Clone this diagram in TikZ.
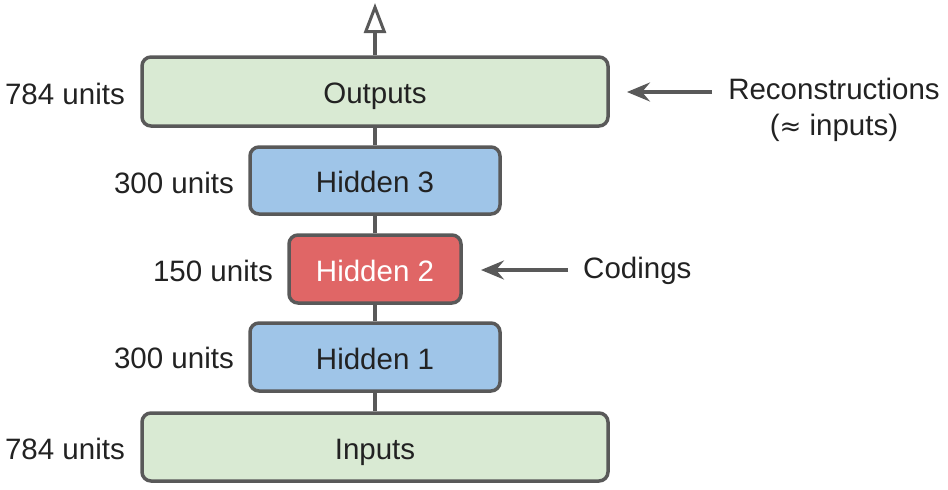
\documentclass[tikz,border=0pt]{standalone}
\usepackage{fontspec}
\setmainfont{Liberation Sans}
\newfontfamily\symfont{DejaVu Sans}
\usetikzlibrary{arrows.meta}
\definecolor{edgegray}{HTML}{595959}
\definecolor{greenfill}{HTML}{D9EAD3}
\definecolor{bluefill}{HTML}{9FC5E8}
\definecolor{redfill}{HTML}{E06666}
\definecolor{textcol}{HTML}{222222}
\tikzset{
  layer/.style={draw=edgegray, line width=3.5pt, rounded corners=9pt, inner sep=0pt, text=textcol, text height=28pt, text depth=4pt, font=\fontsize{29.5}{34}\selectfont},
  lbl/.style={font=\fontsize{29.5}{34}\selectfont, inner sep=0pt, text=textcol},
  conn/.style={draw=edgegray, line width=3.5pt},
  pointer/.style={draw=edgegray, line width=3.5pt, -{Stealth[length=23pt, width=19pt, inset=8pt]}},
}
\begin{document}
\begin{tikzpicture}[x=1pt, y=-1pt]
\useasboundingbox (0,0) rectangle (948,490);
\coordinate (top) at (375,3);
\node[layer, fill=greenfill, minimum width=466pt, minimum height=69pt] (out) at (375,91.5) {Outputs};
\node[layer, fill=bluefill, minimum width=250pt, minimum height=67pt] (h3) at (375,180.5) {Hidden 3};
\node[layer, fill=redfill, minimum width=172pt, minimum height=68pt, text=white] (h2) at (375,269) {Hidden 2};
\node[layer, fill=bluefill, minimum width=250pt, minimum height=68pt] (h1) at (375,357) {Hidden 1};
\node[layer, fill=greenfill, minimum width=466pt, minimum height=68pt] (in) at (375,447) {Inputs};
\draw[conn] (in) -- (h1);
\draw[conn] (h1) -- (h2);
\draw[conn] (h2) -- (h3);
\draw[conn] (h3) -- (out);
\draw[conn, -{Triangle[open, length=30pt, width=22pt, line width=3pt]}] (out) -- (top);
% size labels
\node[lbl, anchor=east] (l5) at (125,94) {784 units};
\node[lbl, anchor=east] (l4) at (234,183) {300 units};
\node[lbl, anchor=east] (l3) at (273,271) {150 units};
\node[lbl, anchor=east] (l2) at (234,358) {300 units};
\node[lbl, anchor=east] (l1) at (125,449) {784 units};
% annotations
\node[lbl, align=center, anchor=north] (rec) at (834,78) {Reconstructions\\[2pt]({\symfont\fontsize{26}{30}\selectfont≈} inputs)};
\coordinate (recstart) at (712,92);
\coordinate (recend) at (627,92);
\draw[pointer] (recstart) -- (recend);
\node[lbl, anchor=west] (cod) at (583,271) {Codings};
\coordinate (codstart) at (568,270);
\coordinate (codend) at (481,270);
\draw[pointer] (codstart) -- (codend);
\end{tikzpicture}
\end{document}
